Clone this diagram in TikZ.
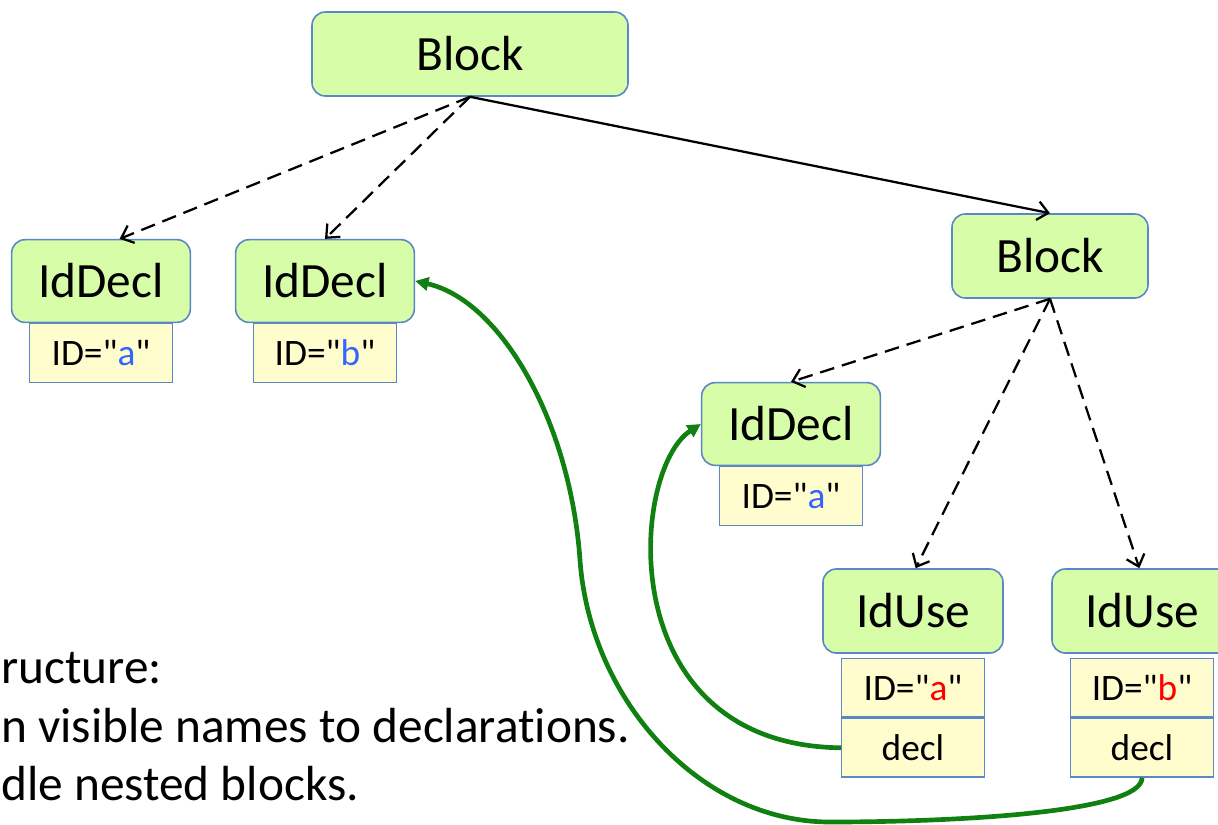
\documentclass[tikz,border=0pt]{standalone}
\usepackage{fontspec}
\setmainfont{Carlito}[Ligatures={TeXOff,CommonOff}]
\usetikzlibrary{arrows.meta,positioning}
\definecolor{nodegreen}{RGB}{215,253,168}
\definecolor{nodeblue}{RGB}{91,135,198}
\definecolor{infoyellow}{RGB}{255,252,206}
\definecolor{linkgreen}{RGB}{16,128,16}
\definecolor{idblue}{RGB}{51,102,255}
\tikzset{
  astnode/.style={draw=nodeblue,fill=nodegreen,line width=1.2pt,rounded corners=10pt,
    inner sep=0pt,font=\fontsize{37}{40}\selectfont},
  infobox/.style={draw=nodeblue,fill=infoyellow,line width=1pt,inner sep=0pt,
    minimum width=107pt,minimum height=44pt,font=\fontsize{28}{30}\selectfont},
  child/.style={->,>={Straight Barb[length=8pt,width=14pt]},line width=1.7pt},
  dashchild/.style={child,dash pattern=on 11pt off 6pt},
  binds/.style={-{Triangle[length=10pt,width=10pt]},linkgreen,line width=3.5pt},
  notes/.style={anchor=base west,inner sep=0pt,font=\fontsize{37}{40}\selectfont}
}
\begin{document}
\begin{tikzpicture}[x=0.75pt,y=-0.75pt]
  \useasboundingbox (0,0) rectangle (1218,825);
  % tree nodes
  \node[astnode,minimum width=237pt,minimum height=63pt] (blk) at (470,54) {Block};
  \node[astnode,minimum width=147pt,minimum height=63pt] (blkIn) at (1050,256) {Block};
  \node[astnode,minimum width=134pt,minimum height=62pt] (declA) at (101,281) {IdDecl};
  \node[astnode,minimum width=134pt,minimum height=62pt] (declB) at (325,281) {IdDecl};
  \node[astnode,minimum width=134pt,minimum height=62pt] (declA2) at (791,424) {IdDecl};
  \node[astnode,minimum width=135pt,minimum height=63pt] (useA) at (913,611) {IdUse};
  \node[astnode,minimum width=135pt,minimum height=63pt] (useB) at (1142,611) {IdUse};
  % attribute boxes
  \node[infobox,below=0pt of declA] (idA) {ID="\textcolor{idblue}{a}"};
  \node[infobox,below=0pt of declB] (idB) {ID="\textcolor{idblue}{b}"};
  \node[infobox,below=0pt of declA2] (idA2) {ID="\textcolor{idblue}{a}"};
  \node[infobox,below=3pt of useA] (idUA) {ID="\textcolor{red}{a}"};
  \node[infobox,below=0pt of idUA] (refUA) {decl};
  \node[infobox,below=3pt of useB] (idUB) {ID="\textcolor{red}{b}"};
  \node[infobox,below=0pt of idUB] (refUB) {decl};
  % children
  \draw[dashchild] (blk.south) -- ([xshift=14]declA.north);
  \draw[dashchild] (blk.south) -- (declB.north);
  \draw[child] (blk.south) -- (blkIn.north);
  \draw[dashchild] (blkIn.south) -- (declA2.north);
  \draw[dashchild] (blkIn.south) -- ([xshift=2]useA.north);
  \draw[dashchild] (blkIn.south) -- ([xshift=-2]useB.north);
  % name bindings
  \draw[binds] (refUA.west) .. controls (610,745) and (630,470) .. (declA2.west);
  \draw[binds] (refUB.south) .. controls (1142,812) and (960,822) .. (830,822)
    .. controls (700,822) and (590,700) .. (580,560)
    .. controls (570,420) and (500,300) .. (declB.east);
  % text
  \node[notes] (line1) at (1,683) {ructure:};
  \node[notes] (line2) at (1,742) {n visible names to declarations.};
  \node[notes] (line3) at (1,800) {dle nested blocks.};
\end{tikzpicture}
\end{document}
